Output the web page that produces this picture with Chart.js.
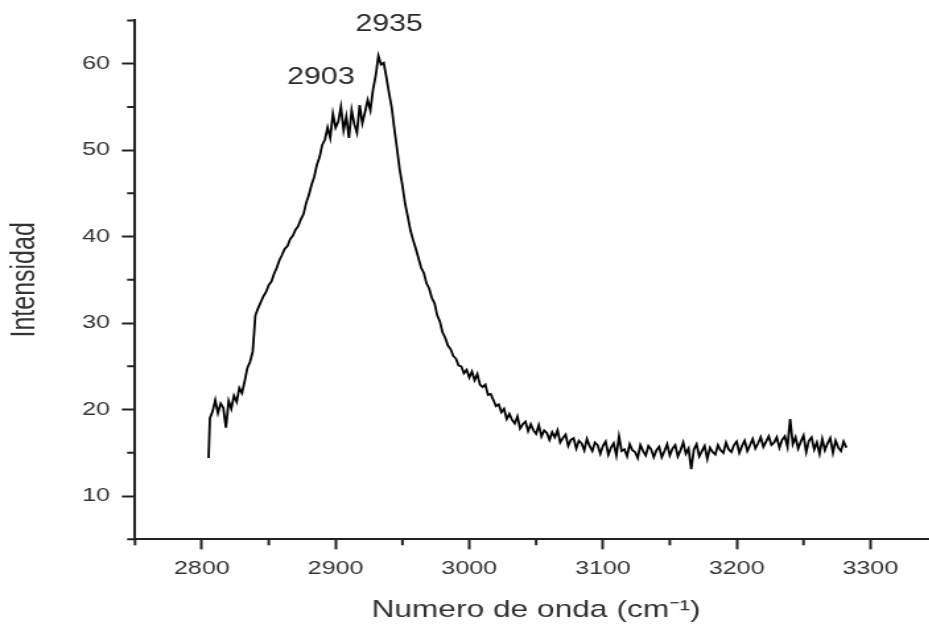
<!DOCTYPE html>
<html>
<head>
<meta charset="utf-8">
<script src="https://cdn.jsdelivr.net/npm/chart.js@4/dist/chart.umd.min.js"></script>
<style>
  html, body { margin: 0; padding: 0; background: #fff; overflow: hidden; width: 929px; height: 628px; }
  /* the source figure is stretched sideways, so the whole chart is too */
  #wrap { width: 718px; height: 628px; transform: scaleX(1.32); transform-origin: 0 0; }
</style>
</head>
<body>
<div id="wrap"><canvas id="spectrum" width="718" height="628"></canvas></div>
<script>
// Raman spectrum
const wavenumbers = [
  2805, 2806, 2808, 2810, 2812, 2814, 2816, 2818, 2820, 2822,
  2824, 2826, 2828, 2830, 2832, 2834, 2836, 2838, 2840, 2842,
  2844, 2846, 2848, 2850, 2852, 2854, 2856, 2858, 2860, 2862,
  2864, 2866, 2868, 2870, 2872, 2874, 2876, 2878, 2880, 2882,
  2884, 2886, 2888, 2890, 2892, 2894, 2896, 2898, 2900, 2902,
  2904, 2906, 2908, 2910, 2912, 2914, 2916, 2918, 2920, 2922,
  2924, 2926, 2928, 2930, 2932, 2934, 2936, 2938, 2940, 2942,
  2944, 2946, 2948, 2950, 2952, 2954, 2956, 2958, 2960, 2962,
  2964, 2966, 2968, 2970, 2972, 2974, 2976, 2978, 2980, 2982,
  2984, 2986, 2988, 2990, 2992, 2994, 2996, 2998, 3000, 3002,
  3004, 3006, 3008, 3010, 3012, 3014, 3016, 3018, 3020, 3022,
  3024, 3026, 3028, 3030, 3032, 3034, 3036, 3038, 3040, 3042,
  3044, 3046, 3048, 3050, 3052, 3054, 3056, 3058, 3060, 3062,
  3064, 3066, 3068, 3070, 3072, 3074, 3076, 3078, 3080, 3082,
  3084, 3086, 3088, 3090, 3092, 3094, 3096, 3098, 3100, 3102,
  3104, 3106, 3108, 3110, 3112, 3114, 3116, 3118, 3120, 3122,
  3124, 3126, 3128, 3130, 3132, 3134, 3136, 3138, 3140, 3142,
  3144, 3146, 3148, 3150, 3152, 3154, 3156, 3158, 3160, 3162,
  3164, 3166, 3168, 3170, 3172, 3174, 3176, 3178, 3180, 3182,
  3184, 3186, 3188, 3190, 3192, 3194, 3196, 3198, 3200, 3202,
  3204, 3206, 3208, 3210, 3212, 3214, 3216, 3218, 3220, 3222,
  3224, 3226, 3228, 3230, 3232, 3234, 3236, 3238, 3240, 3242,
  3244, 3246, 3248, 3250, 3252, 3254, 3256, 3258, 3260, 3262,
  3264, 3266, 3268, 3270, 3272, 3274, 3276, 3278, 3280, 3282
];
const intensity = [
  14.4, 19.0, 19.8, 21.1, 19.6, 20.7, 20.2, 17.9, 21.0, 20.1,
  21.6, 20.9, 22.5, 21.9, 23.3, 24.8, 25.5, 26.7, 30.9, 31.7,
  32.4, 33.1, 33.6, 34.4, 34.8, 35.7, 36.4, 37.3, 37.9, 38.6,
  38.9, 39.7, 40.1, 40.8, 41.2, 42.0, 42.6, 43.9, 44.8, 46.0,
  46.9, 48.3, 49.2, 50.6, 51.2, 52.6, 51.4, 54.2, 52.6, 53.3,
  55.0, 52.3, 53.9, 51.4, 54.6, 53.0, 52.0, 55.2, 53.1, 54.4,
  55.8, 54.6, 57.0, 58.6, 60.9, 59.9, 60.1, 58.4, 56.6, 54.9,
  52.4, 50.1, 47.7, 45.9, 43.8, 42.3, 40.7, 39.6, 38.6, 37.5,
  36.4, 35.8, 34.6, 34.0, 32.9, 32.3, 30.9, 30.2, 28.9, 28.3,
  27.4, 27.0, 26.2, 25.9, 25.1, 25.0, 24.2, 24.6, 23.7, 24.4,
  23.4, 24.1, 22.9, 22.6, 22.9, 21.7, 21.8, 21.1, 20.4, 20.6,
  19.7, 20.1, 18.9, 19.5, 18.8, 18.4, 19.2, 17.8, 18.3, 18.6,
  17.5, 18.3, 17.6, 17.2, 18.2, 16.9, 17.6, 17.3, 16.5, 17.4,
  16.8, 17.6, 16.2, 16.7, 17.1, 15.8, 16.5, 16.7, 15.5, 16.4,
  16.1, 15.3, 16.6, 15.8, 15.2, 16.2, 15.9, 14.9, 15.8, 16.3,
  14.8, 15.6, 16.1, 14.7, 16.9, 15.2, 15.4, 14.6, 16.0, 15.3,
  15.1, 14.4, 15.9, 15.2, 14.7, 15.8, 15.4, 14.5, 15.3, 15.7,
  14.5, 15.2, 16.0, 14.7, 15.5, 15.9, 14.6, 15.3, 16.2, 14.9,
  15.5, 13.1, 15.4, 16.0, 14.6, 15.2, 15.8, 14.3, 15.6, 15.1,
  14.8, 15.9, 15.3, 15.0, 16.2, 15.4, 15.1, 15.9, 16.3, 15.0,
  15.8, 16.4, 15.2, 15.9, 16.6, 15.5, 16.1, 16.8, 15.7, 16.3,
  16.9, 15.9, 16.2, 16.8, 15.6, 16.5, 16.9, 15.7, 18.9, 16.0,
  16.8, 15.5, 16.3, 17.0, 15.1, 16.4, 16.8, 15.4, 16.2, 14.9,
  16.6, 15.3, 16.1, 16.7, 15.0, 16.4, 15.6, 15.2, 16.3, 15.6
];
const xTickLabels = [2800, 2900, 3000, 3100, 3200, 3300];
const yTickLabels = [10, 20, 30, 40, 50, 60];
const peakNames = ['2935', '2903'];

// where the peak labels sit, in data units
const peakLabelPos = [
  { x: 2940, y: 64.5 },
  { x: 2889, y: 58.4 }
];

const FONT = '"Liberation Sans", Arial, sans-serif';
const AXIS = '#222';
const TEXT = '#333';

// short minor ticks + peak labels
const extras = {
  id: 'extras',
  afterDraw(chart) {
    const { ctx, scales: { x, y } } = chart;
    ctx.save();
    ctx.strokeStyle = AXIS;
    ctx.lineWidth = 2;
    ctx.beginPath();
    x.ticks.forEach(t => {
      if (!xTickLabels.includes(t.value)) {
        const px = x.getPixelForValue(t.value);
        ctx.moveTo(px, x.top);
        ctx.lineTo(px, x.top + 6);
      }
    });
    y.ticks.forEach(t => {
      if (!yTickLabels.includes(t.value)) {
        const py = y.getPixelForValue(t.value);
        ctx.moveTo(y.right - 6, py);
        ctx.lineTo(y.right, py);
      }
    });
    ctx.stroke();

    ctx.fillStyle = '#2b2b2b';
    ctx.font = '23px ' + FONT;
    ctx.textAlign = 'center';
    ctx.textBaseline = 'middle';
    peakNames.forEach((name, i) => {
      ctx.fillText(name, x.getPixelForValue(peakLabelPos[i].x), y.getPixelForValue(peakLabelPos[i].y));
    });
    ctx.restore();
  }
};

const ctx = document.getElementById('spectrum').getContext('2d');
new Chart(ctx, {
  type: 'line',
  data: {
    datasets: [{
      label: 'Intensidad',
      data: wavenumbers.map((w, i) => ({ x: w, y: intensity[i] })),
      borderColor: '#000',
      borderWidth: 1.8,
      pointRadius: 0,
      tension: 0,
      fill: false
    }]
  },
  options: {
    responsive: false,
    animation: false,
    layout: { padding: { top: 19.3, right: 2.8, bottom: 0, left: 0 } },
    plugins: { legend: { display: false }, tooltip: { enabled: false } },
    scales: {
      x: {
        type: 'linear',
        min: 2750,
        max: 3350,
        border: { color: AXIS, width: 2 },
        grid: {
          drawOnChartArea: false,
          tickLength: 10,
          tickWidth: 2,
          tickColor: c => xTickLabels.includes(c.tick.value) ? AXIS : 'rgba(0,0,0,0)'
        },
        ticks: {
          stepSize: 50,
          autoSkip: false,
          maxRotation: 0,
          padding: 8,
          color: TEXT,
          font: { family: FONT, size: 19 },
          callback: v => xTickLabels.includes(v) ? String(v) : ''
        },
        title: {
          display: true,
          text: 'Numero de onda (cm\u207B\u00B9)',
          color: TEXT,
          font: { family: FONT, size: 24 },
          padding: { top: 0, bottom: 3 }
        },
        afterFit: s => { s.height = 88.7; }
      },
      y: {
        min: 5,
        max: 65,
        border: { color: AXIS, width: 2 },
        grid: {
          drawOnChartArea: false,
          tickLength: 10,
          tickWidth: 2,
          tickColor: c => yTickLabels.includes(c.tick.value) ? AXIS : 'rgba(0,0,0,0)'
        },
        ticks: {
          stepSize: 5,
          autoSkip: false,
          padding: 9,
          color: TEXT,
          font: { family: FONT, size: 19 },
          callback: v => yTickLabels.includes(v) ? String(v) : ''
        },
        title: {
          display: true,
          text: 'Intensidad',
          color: TEXT,
          font: { family: FONT, size: 25 },
          padding: { top: 4, bottom: 0 }
        },
        afterFit: s => { s.width = 102.3; }
      }
    }
  },
  plugins: [extras]
});
</script>
</body>
</html>
